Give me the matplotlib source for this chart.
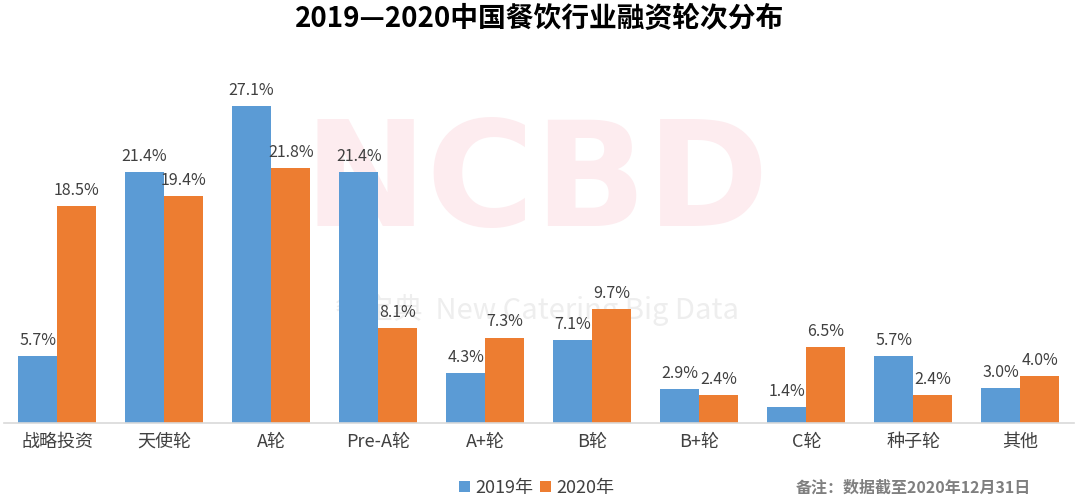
import numpy as np
import matplotlib
matplotlib.use("Agg")
import matplotlib.pyplot as plt

plt.rcParams['font.family'] = ['Noto Sans CJK SC', 'DejaVu Sans']

categories = ['战略投资', '天使轮', 'A轮', 'Pre-A轮', 'A+轮', 'B轮', 'B+轮', 'C轮', '种子轮', '其他']
v2019 = [5.7, 21.4, 27.1, 21.4, 4.3, 7.1, 2.9, 1.4, 5.7, 3.0]
v2020 = [18.5, 19.4, 21.8, 8.1, 7.3, 9.7, 2.4, 6.5, 2.4, 4.0]
series_names = ['2019年', '2020年']

blue = '#5b9bd5'
orange = '#ed7d31'
txt = '#404040'

fig = plt.figure(figsize=(10.8, 5.03), dpi=100)
ax = fig.add_axes([0.0033, 0.159, 0.991, 0.722])

# watermark behind the bars
ax.text(0.497, 0.632, 'NCBD', ha='center', va='center', fontsize=106,
        fontweight='bold', color='#fdecef', family=['DejaVu Sans'],
        transform=fig.transFigure, zorder=0)
ax.text(0.497, 0.384, '餐宝典  New Catering Big Data', ha='center', va='center',
        fontsize=21, color='#eeeeee', transform=fig.transFigure, zorder=0)

x = np.arange(len(categories))
w = 0.365
b1 = ax.bar(x - w / 2, v2019, w, color=blue, label=series_names[0], zorder=2)
b2 = ax.bar(x + w / 2, v2020, w, color=orange, label=series_names[1], zorder=2)

for bars, vals in ((b1, v2019), (b2, v2020)):
    for r, v in zip(bars, vals):
        ax.text(r.get_x() + r.get_width() / 2, v + 0.6, f'{v:.1f}%',
                ha='center', va='bottom', fontsize=11.5, color=txt, zorder=3)

ax.set_xlim(-0.5, len(categories) - 0.5)
ax.set_ylim(0, 31)
ax.set_xticks(x)
ax.set_xticklabels(categories, fontsize=13, color=txt)
ax.tick_params(axis='x', length=0, pad=7)
ax.set_yticks([])
for s in ['top', 'right', 'left']:
    ax.spines[s].set_visible(False)
ax.spines['bottom'].set_color('#d9d9d9')
ax.spines['bottom'].set_linewidth(1.2)
ax.patch.set_alpha(0)

fig.text(0.5, 0.962, '2019—2020中国餐饮行业融资轮次分布', ha='center', va='center',
         fontsize=20, fontweight='bold', color='black')

fig.legend(loc='center', bbox_to_anchor=(0.497, 0.03), ncol=2, frameon=False,
           fontsize=13, handlelength=0.6, handleheight=0.6, handletextpad=0.3,
           columnspacing=0.4, labelcolor=txt)

fig.text(0.955, 0.03, '备注：数据截至2020年12月31日', ha='right', va='center',
         fontsize=11.5, fontweight='bold', color='#7f7f7f')

fig.savefig('out.png', dpi=100)
